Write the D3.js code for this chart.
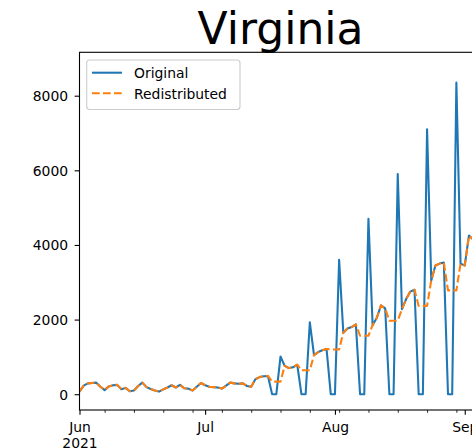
<!DOCTYPE html>
<html><head><meta charset="utf-8">
<script src="https://cdn.jsdelivr.net/npm/d3@7"></script>
<style>
body{margin:0;background:#fff}
svg{display:block}
text{font-family:"DejaVu Sans",sans-serif}
</style>
</head><body>
<svg id="c" width="472" height="448"></svg>
<script>
const titleText = "Virginia";
const startDate = "2021-06-01";
const seriesNames = ["Original", "Redistributed"];
const original = [
  70,230,290,300,310,200,110,210,240,250,
  135,170,80,100,220,310,190,140,100,70,
  130,180,240,180,250,160,150,100,200,300,
  240,200,190,180,150,230,310,290,280,290,
  220,200,400,460,480,490,0,0,1010,760,
  700,720,790,0,0,1930,1050,1130,1180,1210,
  0,0,3600,1650,1760,1800,1870,0,0,4700,
  1850,2050,2380,2300,0,0,5900,2280,2550,2750,
  2800,0,0,7100,3050,3450,3500,3530,0,0,
  8350,3500,3450,4250,4150
];
const redistributed = [
  70,230,290,300,310,200,110,210,240,250,
  135,170,80,100,220,310,190,140,100,70,
  130,180,240,180,250,160,150,100,200,300,
  240,200,190,180,150,230,310,290,280,290,
  220,200,400,460,480,490,337,337,337,760,
  700,720,790,643,643,643,1050,1130,1180,1210,
  1200,1200,1200,1650,1760,1800,1870,1567,1567,1567,
  1850,2050,2380,2300,1967,1967,1967,2280,2550,2750,
  2800,2367,2367,2367,3050,3450,3500,3530,2783,2783,
  2783,3500,3450,4250,4150
];
const xDomain = ["2021-06-01", "2021-09-05"];
const yDomain = [-423, 9163];
const yTicks = [0, 2000, 4000, 6000, 8000];
const xTickDates = ["2021-06-01", "2021-07-01", "2021-08-01", "2021-09-01"];
const xTickLabels = ["Jun\n2021", "Jul", "Aug", "Sep"];
const colors = ["#1f77b4", "#ff7f0e"];

const parse = d3.utcParse("%Y-%m-%d");
const t0 = parse(startDate);
const dates = original.map((_, i) => d3.utcDay.offset(t0, i));

const L = 79.5, R = 481.5, T = 52.3, B = 410;
const svg = d3.select("#c");

const x = d3.scaleUtc().domain(xDomain.map(parse)).range([L, R]);
const y = d3.scaleLinear().domain(yDomain).range([B, T]);

svg.append("defs").append("clipPath").attr("id", "clip")
  .append("rect").attr("x", L).attr("y", T).attr("width", R - L).attr("height", B - T);

// title
svg.append("text").attr("x", (L + R) / 2).attr("y", 44)
  .attr("text-anchor", "middle").attr("font-size", 44).attr("fill", "#000")
  .text(titleText);

// lines
const line = d3.line().x((d, i) => x(dates[i])).y(d => y(d));
const g = svg.append("g").attr("clip-path", "url(#clip)");
g.append("path").datum(original).attr("d", line)
  .attr("fill", "none").attr("stroke", colors[0]).attr("stroke-width", 2.08)
  .attr("stroke-linejoin", "round").attr("stroke-linecap", "butt");
g.append("path").datum(redistributed).attr("d", line)
  .attr("fill", "none").attr("stroke", colors[1]).attr("stroke-width", 2.08)
  .attr("stroke-dasharray", "7.7,3.3").attr("stroke-linejoin", "round");

// y axis
const yAx = svg.append("g").attr("transform", `translate(${L},0)`)
  .call(d3.axisLeft(y).tickValues(yTicks).tickSize(4.86).tickPadding(6.5).tickFormat(d3.format("d")));
yAx.select(".domain").remove();
yAx.selectAll("line").attr("stroke", "#000").attr("stroke-width", 1.1);
yAx.selectAll("text").attr("font-size", 13.9).attr("fill", "#000").attr("dy", "0.36em")
  .attr("font-family", "DejaVu Sans");

// x minor ticks (Mondays)
const minors = d3.utcMonday.range(x.domain()[0], d3.utcDay.offset(x.domain()[1], 1));
const xMin = svg.append("g").attr("transform", `translate(0,${B})`)
  .call(d3.axisBottom(x).tickValues(minors).tickSize(2.8).tickFormat(""));
xMin.select(".domain").remove();
xMin.selectAll("line").attr("stroke", "#000").attr("stroke-width", 0.83);

// x major ticks
const xAx = svg.append("g").attr("transform", `translate(0,${B})`)
  .call(d3.axisBottom(x).tickValues(xTickDates.map(parse)).tickSize(4.86).tickPadding(4.86)
    .tickFormat((d, i) => xTickLabels[i]));
xAx.select(".domain").remove();
xAx.selectAll("line").attr("stroke", "#000").attr("stroke-width", 1.1);
xAx.selectAll("text").attr("font-size", 13.9).attr("fill", "#000")
  .attr("font-family", "DejaVu Sans")
  .each(function(d, i) {
    const el = d3.select(this);
    const parts = xTickLabels[i].split("\n");
    el.text(null).attr("dy", null).attr("y", 9.72);
    parts.forEach((p, k) => {
      el.append("tspan").attr("x", 0).attr("dy", k === 0 ? "0.86em" : "1.2em").text(p);
    });
  });

// spines
svg.append("rect").attr("x", L).attr("y", T).attr("width", R - L).attr("height", B - T)
  .attr("fill", "none").attr("stroke", "#000").attr("stroke-width", 1.1);

// legend
const lg = svg.append("g");
lg.append("rect").attr("x", 86.7).attr("y", 60).attr("width", 153.3).attr("height", 49.5)
  .attr("rx", 3).attr("fill", "#fff").attr("fill-opacity", 0.8)
  .attr("stroke", "#cccccc").attr("stroke-width", 1.1);
const rows = [72.7, 93.3];
seriesNames.forEach((name, i) => {
  lg.append("line").attr("x1", 92).attr("x2", 122).attr("y1", rows[i]).attr("y2", rows[i])
    .attr("stroke", colors[i]).attr("stroke-width", 2.08)
    .attr("stroke-dasharray", i === 1 ? "7.7,3.3" : null);
  lg.append("text").attr("x", 134).attr("y", rows[i] + 5.4)
    .attr("font-size", 13.9).attr("fill", "#000").text(name);
});
</script>
</body></html>
